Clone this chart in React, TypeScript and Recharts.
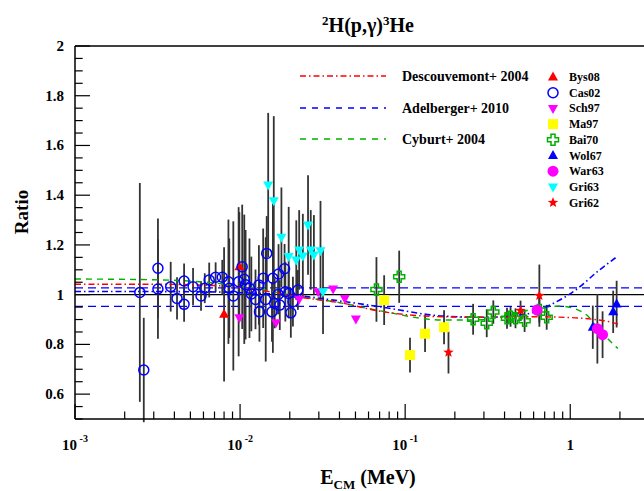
import React from "react";
import { ComposedChart, Scatter, Line, XAxis, YAxis, ErrorBar, ReferenceLine } from "recharts";

type Pt = { e: number; v: number; err: number };

const FONT = '"Liberation Serif", "Times New Roman", serif';

// --- measurements (E in MeV, ratio, symmetric error) ---
const bys08: Pt[] = [
  { e: 0.008, v: 0.921, err: 0.27 },
  { e: 0.0099, v: 1.112, err: 0.22 },
];

const cas02: Pt[] = [
  { e: 0.00247, v: 1.009, err: 0.44 },
  { e: 0.00261, v: 0.697, err: 0.21 },
  { e: 0.00318, v: 1.106, err: 0.2 },
  { e: 0.00318, v: 1.023, err: 0.2 },
  { e: 0.0038, v: 1.032, err: 0.1 },
  { e: 0.00415, v: 0.985, err: 0.085 },
  { e: 0.00458, v: 1.055, err: 0.07 },
  { e: 0.00458, v: 0.961, err: 0.07 },
  { e: 0.00519, v: 1.032, err: 0.075 },
  { e: 0.0058, v: 0.995, err: 0.06 },
  { e: 0.00611, v: 1.026, err: 0.06 },
  { e: 0.0065, v: 1.059, err: 0.07 },
  { e: 0.00711, v: 1.07, err: 0.06 },
  { e: 0.0078, v: 1.07, err: 0.07 },
  { e: 0.0085, v: 1.052, err: 0.25 },
  { e: 0.0086, v: 1.026, err: 0.2 },
  { e: 0.0091, v: 0.995, err: 0.3 },
  { e: 0.0098, v: 1.052, err: 0.3 },
  { e: 0.0103, v: 1.112, err: 0.25 },
  { e: 0.0106, v: 1.062, err: 0.26 },
  { e: 0.0108, v: 1.04, err: 0.22 },
  { e: 0.0114, v: 1.026, err: 0.2 },
  { e: 0.0117, v: 1.003, err: 0.15 },
  { e: 0.0124, v: 0.981, err: 0.12 },
  { e: 0.013, v: 1.039, err: 0.16 },
  { e: 0.0131, v: 0.931, err: 0.12 },
  { e: 0.0138, v: 1.066, err: 0.2 },
  { e: 0.0143, v: 0.981, err: 0.25 },
  { e: 0.0145, v: 1.166, err: 0.15 },
  { e: 0.0156, v: 0.931, err: 0.12 },
  { e: 0.0158, v: 1.066, err: 0.3 },
  { e: 0.0162, v: 0.965, err: 0.1 },
  { e: 0.017, v: 1.001, err: 0.08 },
  { e: 0.0171, v: 1.083, err: 0.12 },
  { e: 0.0174, v: 0.958, err: 0.1 },
  { e: 0.0186, v: 1.104, err: 0.1 },
  { e: 0.0188, v: 1.012, err: 0.12 },
  { e: 0.0197, v: 1.005, err: 0.1 },
  { e: 0.0203, v: 0.927, err: 0.1 },
  { e: 0.0209, v: 0.972, err: 0.1 },
  { e: 0.0224, v: 1.019, err: 0.08 },
];

const sch97: Pt[] = [
  { e: 0.0099, v: 0.907, err: 0 },
  { e: 0.0165, v: 0.887, err: 0 },
  { e: 0.0228, v: 0.982, err: 0 },
  { e: 0.0297, v: 1.012, err: 0 },
  { e: 0.0366, v: 1.023, err: 0 },
  { e: 0.0431, v: 0.985, err: 0 },
  { e: 0.0503, v: 0.902, err: 0 },
];

const ma97: Pt[] = [
  { e: 0.0746, v: 0.978, err: 0.1 },
  { e: 0.107, v: 0.757, err: 0.07 },
  { e: 0.132, v: 0.843, err: 0.074 },
  { e: 0.172, v: 0.869, err: 0.068 },
];

const bai70: Pt[] = [
  { e: 0.067, v: 1.021, err: 0.13 },
  { e: 0.092, v: 1.072, err: 0.105 },
  { e: 0.258, v: 0.901, err: 0.062 },
  { e: 0.312, v: 0.885, err: 0.056 },
  { e: 0.342, v: 0.93, err: 0.047 },
  { e: 0.414, v: 0.905, err: 0.042 },
  { e: 0.435, v: 0.911, err: 0.04 },
  { e: 0.466, v: 0.905, err: 0.04 },
  { e: 0.529, v: 0.895, err: 0.045 },
  { e: 0.65, v: 0.938, err: 0.05 },
  { e: 0.72, v: 0.909, err: 0.05 },
];

const wol67: Pt[] = [
  { e: 1.37, v: 0.869, err: 0.087 },
  { e: 1.82, v: 0.931, err: 0.085 },
  { e: 1.91, v: 0.962, err: 0.094 },
];

const war63: Pt[] = [
  { e: 0.63, v: 0.938, err: 0 },
  { e: 1.46, v: 0.863, err: 0.14 },
  { e: 1.57, v: 0.839, err: 0.094 },
];

const gri63: Pt[] = [
  { e: 0.0148, v: 1.441, err: 0.29 },
  { e: 0.016, v: 1.378, err: 0.34 },
  { e: 0.0178, v: 1.231, err: 0.2 },
  { e: 0.0197, v: 1.153, err: 0.2 },
  { e: 0.0219, v: 1.139, err: 0.16 },
  { e: 0.0228, v: 1.18, err: 0.16 },
  { e: 0.024, v: 1.155, err: 0.17 },
  { e: 0.0258, v: 1.28, err: 0.2 },
  { e: 0.0268, v: 1.18, err: 0.16 },
  { e: 0.028, v: 1.16, err: 0.16 },
  { e: 0.0307, v: 1.177, err: 0.2 },
  { e: 0.0318, v: 1.012, err: 0.17 },
];

const gri62: Pt[] = [
  { e: 0.183, v: 0.768, err: 0.085 },
  { e: 0.5, v: 0.936, err: 0.04 },
  { e: 0.65, v: 0.996, err: 0.125 },
];

// --- model curves ---
const descouvemont = [
  { e: 0.001, v: 1.042 }, { e: 0.003, v: 1.042 }, { e: 0.006, v: 1.038 },
  { e: 0.01, v: 1.03 }, { e: 0.015, v: 1.012 }, { e: 0.023, v: 0.99 },
  { e: 0.04, v: 0.968 }, { e: 0.074, v: 0.931 }, { e: 0.17, v: 0.911 },
  { e: 0.31, v: 0.909 }, { e: 0.59, v: 0.911 }, { e: 1.0, v: 0.908 },
  { e: 1.37, v: 0.901 }, { e: 1.7, v: 0.892 }, { e: 1.95, v: 0.882 },
];

const adelbergerFit = [
  { e: 0.001, v: 1.013 }, { e: 0.005, v: 1.012 }, { e: 0.01, v: 1.008 },
  { e: 0.023, v: 0.995 }, { e: 0.04, v: 0.975 }, { e: 0.074, v: 0.949 },
  { e: 0.17, v: 0.914 }, { e: 0.31, v: 0.909 }, { e: 0.54, v: 0.922 },
  { e: 0.79, v: 0.965 }, { e: 1.08, v: 1.019 }, { e: 1.5, v: 1.099 },
  { e: 1.94, v: 1.155 },
];

const cyburt = [
  { e: 0.001, v: 1.063 }, { e: 0.003, v: 1.06 }, { e: 0.0057, v: 1.052 },
  { e: 0.01, v: 1.035 }, { e: 0.023, v: 0.992 }, { e: 0.04, v: 0.968 },
  { e: 0.067, v: 0.938 }, { e: 0.17, v: 0.898 }, { e: 0.26, v: 0.898 },
  { e: 0.375, v: 0.909 }, { e: 0.59, v: 0.941 }, { e: 0.86, v: 0.954 },
  { e: 1.1, v: 0.94 }, { e: 1.26, v: 0.918 }, { e: 1.5, v: 0.858 },
  { e: 1.94, v: 0.784 },
];

const adelbergerBand = [1.027, 0.953];
const unity = 1;

// --- axes ---
const xMajor = [0.001, 0.01, 0.1, 1];
const xMajorExp = ["-3", "-2", "-1", ""];
const yMajor = [0.6, 0.8, 1, 1.2, 1.4, 1.6, 1.8, 2];
const yMajorLabels = ["0.6", "0.8", "1", "1.2", "1.4", "1.6", "1.8", "2"];

const xTicks: number[] = [];
[0.001, 0.01, 0.1, 1].forEach((d) => {
  for (let k = 1; k <= 9; k++) {
    const t = +(d * k).toPrecision(3);
    if (t <= 3) xTicks.push(t);
  }
});
const yTicks: number[] = [];
for (let i = 0; i <= 30; i++) yTicks.push(+(0.5 + i * 0.05).toFixed(2));

const modelLegend = ["Descouvemont+ 2004", "Adelberger+ 2010", "Cyburt+ 2004"];

const RED = "#ff0000";
const BLUE = "#0000ff";
const MAGENTA = "#ff00ff";
const GREEN = "#00b000";
const YELLOW = "#ffff00";
const CYAN = "#00ffff";

type Kind = "triUp" | "triDown" | "openCircle" | "circle" | "square" | "openCross" | "star";

const datasets: { name: string; data: Pt[]; kind: Kind; color: string }[] = [
  { name: "Bys08", data: bys08, kind: "triUp", color: RED },
  { name: "Cas02", data: cas02, kind: "openCircle", color: BLUE },
  { name: "Sch97", data: sch97, kind: "triDown", color: MAGENTA },
  { name: "Ma97", data: ma97, kind: "square", color: YELLOW },
  { name: "Bai70", data: bai70, kind: "openCross", color: GREEN },
  { name: "Wol67", data: wol67, kind: "triUp", color: BLUE },
  { name: "War63", data: war63, kind: "circle", color: MAGENTA },
  { name: "Gri63", data: gri63, kind: "triDown", color: CYAN },
  { name: "Gri62", data: gri62, kind: "star", color: RED },
];

function Marker({ kind, cx, cy, color }: { kind: Kind; cx: number; cy: number; color: string }) {
  switch (kind) {
    case "triUp":
      return <polygon points={`${cx},${cy - 5.5} ${cx - 5},${cy + 3.5} ${cx + 5},${cy + 3.5}`} fill={color} />;
    case "triDown":
      return <polygon points={`${cx - 5},${cy - 3.5} ${cx + 5},${cy - 3.5} ${cx},${cy + 5.5}`} fill={color} />;
    case "openCircle":
      return <circle cx={cx} cy={cy} r={5} fill="none" stroke={color} strokeWidth={1.5} />;
    case "circle":
      return <circle cx={cx} cy={cy} r={5.5} fill={color} />;
    case "square":
      return <rect x={cx - 5} y={cy - 5} width={10} height={10} fill={color} />;
    case "openCross": {
      const a = 2, r = 5.5;
      const p = [
        [-a, -r], [a, -r], [a, -a], [r, -a], [r, a], [a, a],
        [a, r], [-a, r], [-a, a], [-r, a], [-r, -a], [-a, -a],
      ].map(([dx, dy]) => `${cx + dx},${cy + dy}`).join(" ");
      return <polygon points={p} fill="none" stroke={color} strokeWidth={1.5} />;
    }
    case "star": {
      const pts: string[] = [];
      for (let i = 0; i < 10; i++) {
        const rr = i % 2 === 0 ? 5.5 : 2.3;
        const ang = -Math.PI / 2 + (i * Math.PI) / 5;
        pts.push(`${cx + rr * Math.cos(ang)},${cy + rr * Math.sin(ang)}`);
      }
      return <polygon points={pts.join(" ")} fill={color} />;
    }
  }
  return null;
}

const XTick = (props: any) => {
  const { x, y, payload } = props;
  const idx = xMajor.findIndex((m) => Math.abs(m - payload.value) < 1e-9);
  const major = idx >= 0;
  return (
    <g>
      <line x1={x} x2={x} y1={y} y2={y - (major ? 15 : 7.5)} stroke="#000" strokeWidth={1.2} />
      {major && (
        <text x={x} y={y + 31} textAnchor="middle" fontFamily={FONT} fontWeight="bold" fontSize={15} fill="#000">
          {xMajorExp[idx] === "" ? "1" : "10"}
          {xMajorExp[idx] !== "" && (
            <tspan dy={-8} fontSize={10}>{" " + xMajorExp[idx]}</tspan>
          )}
        </text>
      )}
    </g>
  );
};

const YTick = (props: any) => {
  const { x, y, payload } = props;
  const idx = yMajor.findIndex((m) => Math.abs(m - payload.value) < 1e-9);
  const major = idx >= 0;
  return (
    <g>
      <line x1={x} x2={x + (major ? 15 : 7.7)} y1={y} y2={y} stroke="#000" strokeWidth={1.2} />
      {major && (
        <text x={x - 11} y={y + 5} textAnchor="end" fontFamily={FONT} fontWeight="bold" fontSize={15} fill="#000">
          {yMajorLabels[idx]}
        </text>
      )}
    </g>
  );
};

const W = 660;
const H = 491;
const PLOT = { left: 75, top: 46, right: 649, bottom: 419 };

export default function App() {
  return (
    <div style={{ position: "absolute", left: 0, top: 0, width: 644, height: H, overflow: "hidden", background: "#fff" }}>
      <ComposedChart width={W} height={H} margin={{ top: 46, right: 11, bottom: 42, left: 0 }}>
        <XAxis
          dataKey="e"
          type="number"
          scale="log"
          domain={[0.001, 3]}
          allowDataOverflow
          ticks={xTicks}
          interval={0}
          tick={(p: any) => <XTick {...p} />}
          tickLine={false}
          tickSize={0}
          tickMargin={0}
          height={30}
          axisLine={{ stroke: "#000", strokeWidth: 1.5 }}
        />
        <YAxis
          dataKey="v"
          type="number"
          domain={[0.5, 2]}
          allowDataOverflow
          ticks={yTicks}
          interval={0}
          tick={(p: any) => <YTick {...p} />}
          tickLine={false}
          tickSize={0}
          tickMargin={0}
          width={75}
          axisLine={{ stroke: "#000", strokeWidth: 1.5 }}
        />
        <ReferenceLine y={unity} stroke="#000" strokeWidth={1.3} />
        {adelbergerBand.map((b) => (
          <ReferenceLine key={b} y={b} stroke={BLUE} strokeWidth={1.3} strokeDasharray="8 5" />
        ))}
        {datasets.map((d) => (
          <Scatter
            key={d.name}
            name={d.name}
            data={d.data}
            isAnimationActive={false}
            shape={(p: any) => <Marker kind={d.kind} cx={p.cx} cy={p.cy} color={d.color} />}
          >
            <ErrorBar dataKey="err" direction="y" width={0} stroke="#333" strokeWidth={1.8} />
          </Scatter>
        ))}
        <Line data={cyburt} dataKey="v" type="monotone" dot={false} stroke={GREEN} strokeWidth={1.4} strokeDasharray="6 5" isAnimationActive={false} />
        <Line data={adelbergerFit} dataKey="v" type="monotone" dot={false} stroke={BLUE} strokeWidth={1.6} strokeDasharray="6 3 1.5 3" isAnimationActive={false} />
        <Line data={descouvemont} dataKey="v" type="monotone" dot={false} stroke={RED} strokeWidth={1.4} strokeDasharray="6 3 1.5 3" isAnimationActive={false} />
      </ComposedChart>

      <svg width={644} height={H} style={{ position: "absolute", left: 0, top: 0, pointerEvents: "none" }} fontFamily={FONT} fontWeight="bold">
        <line x1={PLOT.left} x2={PLOT.right} y1={PLOT.top} y2={PLOT.top} stroke="#000" strokeWidth={1.5} />
        <text x={368} y={32} textAnchor="middle" fontSize={20}>
          <tspan fontSize={13} dy={-7}>2</tspan>
          <tspan dy={7}>H(p,γ)</tspan>
          <tspan fontSize={13} dy={-7}>3</tspan>
          <tspan dy={7}>He</tspan>
        </text>
        <text x={28} y={212} textAnchor="middle" fontSize={19} transform="rotate(-90 28 212)">Ratio</text>
        <text x={368} y={484} textAnchor="middle" fontSize={20}>
          E<tspan fontSize={13} dy={5}>CM</tspan>
          <tspan dy={-5}> (MeV)</tspan>
        </text>

        {/* model legend */}
        <line x1={300} x2={386} y1={76} y2={76} stroke={RED} strokeWidth={1.4} strokeDasharray="6 3 1.5 3" />
        <line x1={300} x2={386} y1={108} y2={108} stroke={BLUE} strokeWidth={1.4} strokeDasharray="6 6" />
        <line x1={300} x2={386} y1={139} y2={139} stroke={GREEN} strokeWidth={1.4} strokeDasharray="6 6" />
        {modelLegend.map((m, i) => (
          <text key={m} x={402} y={[81, 113, 144][i]} fontSize={14}>{m}</text>
        ))}

        {/* data legend */}
        {datasets.map((d, i) => (
          <g key={d.name}>
            <Marker kind={d.kind} cx={553} cy={77 + i * 15.7} color={d.color} />
            <text x={569} y={81 + i * 15.7} fontSize={12}>{d.name}</text>
          </g>
        ))}
      </svg>
    </div>
  );
}
